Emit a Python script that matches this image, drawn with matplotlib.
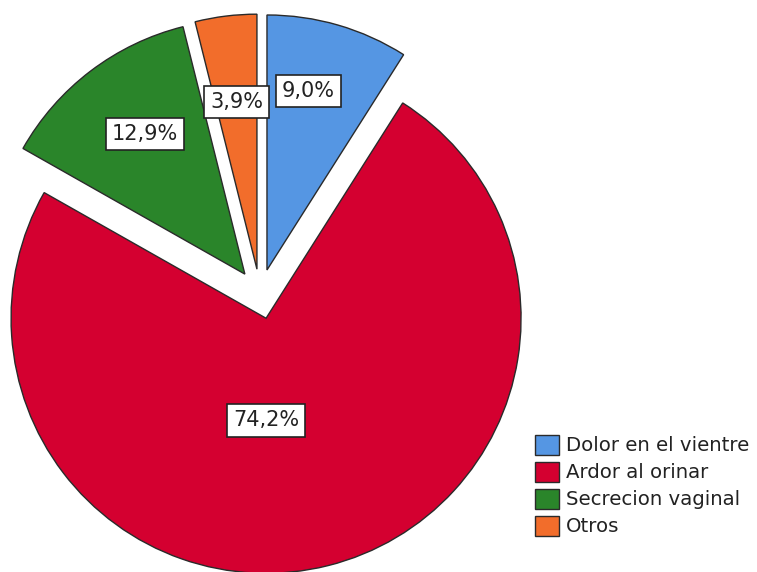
import numpy as np
import matplotlib
matplotlib.use("Agg")
import matplotlib.pyplot as plt

# Data
categories = ["Dolor en el vientre", "Ardor al orinar", "Secrecion vaginal", "Otros"]
percentages = [9.0, 74.2, 12.9, 3.9]
pct_labels = ["9,0%", "74,2%", "12,9%", "3,9%"]
colors = ["#5596E3", "#D40030", "#2A852A", "#F26D2B"]

W, H = 757, 572
R = 255.0
cx, cy = 260, 294  # pixel position of the pie centre (from top-left)

fig = plt.figure(figsize=(W / 100, H / 100), dpi=100)
ax = fig.add_axes([0, 0, 1, 1])

wedges, _ = ax.pie(percentages, colors=colors, startangle=90, counterclock=False,
                   explode=[25 / R] * 4, radius=1.0,
                   wedgeprops=dict(edgecolor="#2a2a2a", linewidth=1.0))
ax.set_xlim(-cx / R, (W - cx) / R)
ax.set_ylim(-(H - cy) / R, cy / R)
ax.axis("off")

# label placement relative to each wedge's apex: angle (deg) and distance (fraction of radius)
label_ang = [77, 270, 125.5, 97]
label_dist = [0.72, 0.40, 0.675, 0.66]
for w, lab, a, d in zip(wedges, pct_labels, label_ang, label_dist):
    x = w.center[0] + d * np.cos(np.deg2rad(a))
    y = w.center[1] + d * np.sin(np.deg2rad(a))
    ax.text(x, y, lab, ha="center", va="center", fontsize=15, color="#222222",
            bbox=dict(boxstyle="square,pad=0.3", facecolor="white", edgecolor="#222222", linewidth=1.2))

leg = fig.legend(wedges, categories, loc="upper left", bbox_to_anchor=(535 / W, 1 - 435 / H),
                 frameon=False, fontsize=14.2, handlelength=1.2, handleheight=1.15,
                 handletextpad=0.35, labelspacing=0.33, borderpad=0, borderaxespad=0)
for t in leg.get_texts():
    t.set_color("#222222")

fig.savefig("out.png", dpi=100)
